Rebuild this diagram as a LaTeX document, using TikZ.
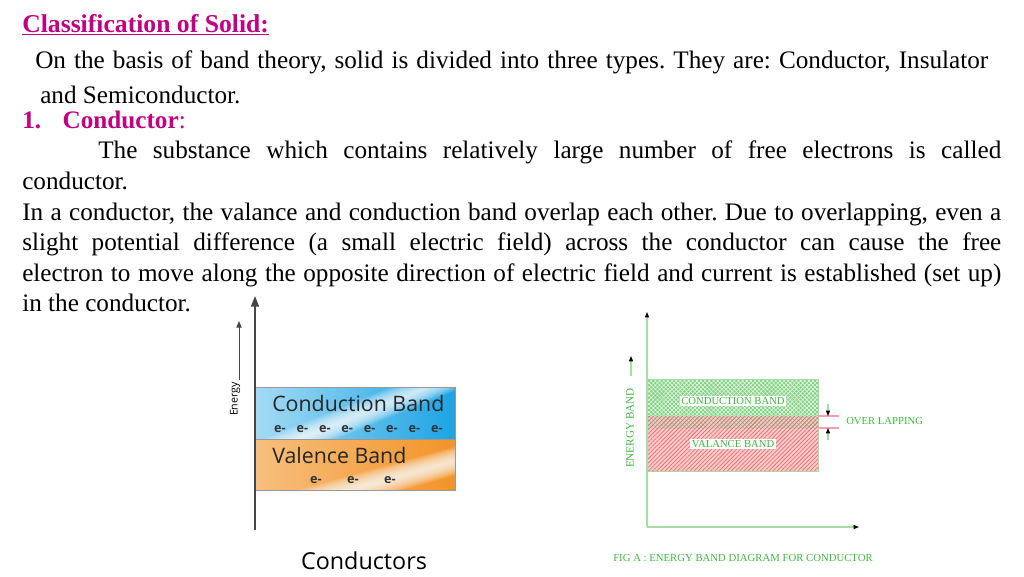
\documentclass[tikz,border=0pt]{standalone}
\usepackage{fontspec}
\setmainfont{Liberation Serif}
\newfontfamily\bandfont{Open Sans}
\usetikzlibrary{arrows.meta,patterns.meta}

\definecolor{titlemag}{RGB}{192,0,128}
\definecolor{axgray}{RGB}{70,70,70}
\definecolor{cbblue}{RGB}{28,164,228}
\definecolor{vborange}{RGB}{242,148,40}
\definecolor{figgreen}{RGB}{65,182,65}
\definecolor{axgreen}{RGB}{165,222,165}
\definecolor{cbgreen}{RGB}{130,210,130}
\definecolor{vbred}{RGB}{240,110,110}
\definecolor{ovpink}{RGB}{245,160,170}

\newcommand{\bodytext}{\fontsize{18.9}{22}\selectfont}
\newcommand{\jline}[2]{\makebox[#1][s]{#2}}
\frenchspacing

\tikzset{
  body/.style={anchor=base west, inner sep=0pt, font=\bodytext},
  bandlabel/.style={inner sep=0pt, font=\bandfont\fontsize{16}{18}\selectfont, text=black!85},
  electron/.style={inner sep=0pt, font=\bandfont\bfseries\fontsize{9.5}{11}\selectfont, text=black!80},
  figlabel/.style={inner sep=1pt, font=\fontsize{8}{9}\selectfont, text=figgreen},
  gloss/.style={white, opacity=0.11},
  axisarr/.style={draw=axgray, line width=1.4pt, -{Triangle[length=8pt,width=6pt]}},
  figarr/.style={draw=axgreen, line width=0.8pt, -{Triangle[length=4pt,width=3pt,color=black]}},
}

\begin{document}
\begin{tikzpicture}[x=0.75pt,y=0.75pt,yscale=-1,xscale=1]
\useasboundingbox (0,0) rectangle (1024,576);

% Text Node
\node (title) at (22,32) [body, font=\fontsize{19.25}{22}\selectfont\bfseries, text=titlemag] {\underline{Classification of Solid:}};
% Text Node
\node (basis) at (35,68) [body] {\jline{714.75pt}{On the basis of band theory, solid is divided into three types. They are: Conductor, Insulator}};
% Text Node
\node (semi) at (40,103) [body] {and Semiconductor.};
% Text Node
\node (head) at (22,128) [body, text=titlemag] {\textbf{1.\hspace{0.85em}Conductor}:};
% Text Node
\node (def1) at (98,158) [body] {\jline{677.25pt}{The substance which contains relatively large number of free electrons is called}};
% Text Node
\node (def2) at (22,189) [body] {conductor.};
% Text Node
\node (par1) at (22,220) [body] {\jline{734.25pt}{In a conductor, the valance and conduction band overlap each other. Due to overlapping, even a}};
% Text Node
\node (par2) at (22,250) [body] {\jline{734.25pt}{slight potential difference (a small electric field) across the conductor can cause the free}};
% Text Node
\node (par3) at (22,281) [body] {\jline{734.25pt}{electron to move along the opposite direction of electric field and current is established (set up)}};
% Text Node
\node (par4) at (22,311) [body] {in the conductor.};

%Left band diagram
\shade[left color=cbblue!40!white, right color=cbblue] (255,387) rectangle (455,439);
\shade[left color=vborange!60!white, right color=vborange] (255,439) rectangle (455,490);
\begin{scope}
  \clip (255,387) rectangle (455,439);
  \foreach \w in {3,6,...,36}
    \fill[gloss] ({300-\w},439) -- ({300+\w},439) -- ({428+\w},387) -- ({428-\w},387) -- cycle;
\end{scope}
\begin{scope}
  \clip (255,439) rectangle (455,490);
  \foreach \w in {4,8,...,52}
    \fill[gloss] ({350-\w},490) -- ({350+\w},490) -- ({535+\w},439) -- ({535-\w},439) -- cycle;
\end{scope}
\draw[black!40] (255,387) rectangle (455,490);
\draw[black!40] (255,439) -- (455,439);
\coordinate (eo) at (255,530);
\coordinate (etop) at (255,296);
\draw[axisarr] (eo) -- (etop);
\coordinate (enlow) at (239,380);
\coordinate (enhigh) at (239,321);
\draw[draw=axgray, line width=0.7pt, -{Triangle[length=5pt,width=4pt]}] (enlow) -- (enhigh);
% Text Node
\node (energy) at (235,399) [rotate=90, inner sep=0pt, font=\bandfont\fontsize{8}{9}\selectfont] {Energy};
% Text Node
\node (cband) at (272,403) [bandlabel, anchor=west] {Conduction Band};
% Text Node
\node (vband) at (272,455) [bandlabel, anchor=west] {Valence Band};
\foreach \i in {0,...,7}
  \node (ec\i) at ({280+\i*22.4},429) [electron] {e-};
\foreach \i/\x in {1/316,2/353,3/390}
  \node (ev\i) at (\x,480) [electron] {e-};
% Text Node
\node (cond) at (364,561) [inner sep=0pt, font=\bandfont\fontsize{17.5}{19}\selectfont] {Conductors};

%Right band diagram
\fill[cbgreen] (647,379) rectangle (818,428);
\fill[pattern={Hatch[angle=45,distance=2.2pt,line width=0.45pt]}, pattern color=white!80!cbgreen] (647,379) rectangle (818,428);
\fill[vbred!35!white] (647,416) rectangle (818,471);
\fill[pattern={Lines[angle=45,distance=2.2pt,line width=0.55pt]}, pattern color=vbred] (647,416) rectangle (818,471);
\fill[pattern={Hatch[angle=45,distance=2.2pt,line width=0.35pt]}, pattern color=cbgreen!80!black, opacity=0.6] (647,416) rectangle (818,428);
\draw[axgreen, line width=0.6pt] (647,379) rectangle (818,471);
\coordinate (fo) at (647,527);
\coordinate (ftop) at (647,312);
\coordinate (fright) at (859,527);
\draw[figarr] (fo) -- (ftop);
\draw[figarr] (fo) -- (fright);
\coordinate (eblow) at (631,376);
\coordinate (ebhigh) at (631,356);
\draw[figarr] (eblow) -- (ebhigh);
% Text Node
\node (enband) at (630,428) [figlabel, rotate=90, font=\fontsize{8.4}{9}\selectfont] {ENERGY BAND};
% Text Node
\node (cbtext) at (733,401) [figlabel, fill=white] {CONDUCTION BAND};
% Text Node
\node (vbtext) at (733,444) [figlabel, fill=white] {VALANCE BAND};
%Over lapping marks
\coordinate (ovtop) at (839,416);
\coordinate (ovbot) at (839,428);
\draw[ovpink, line width=0.8pt] (818,416) -- (ovtop);
\draw[ovpink, line width=0.8pt] (818,428) -- (ovbot);
\coordinate (ova) at (828,404);
\coordinate (ovb) at (828,416);
\coordinate (ovc) at (828,440);
\coordinate (ovd) at (828,428);
\draw[figarr] (ova) -- (ovb);
\draw[figarr] (ovc) -- (ovd);
% Text Node
\node (ovtext) at (846,421) [figlabel, anchor=west, inner sep=0pt] {OVER LAPPING};
% Text Node
\node (figcap) at (613,558) [figlabel, anchor=west, inner sep=0pt, font=\fontsize{8.05}{9}\selectfont] {FIG A : ENERGY BAND DIAGRAM FOR CONDUCTOR};

\end{tikzpicture}
\end{document}
